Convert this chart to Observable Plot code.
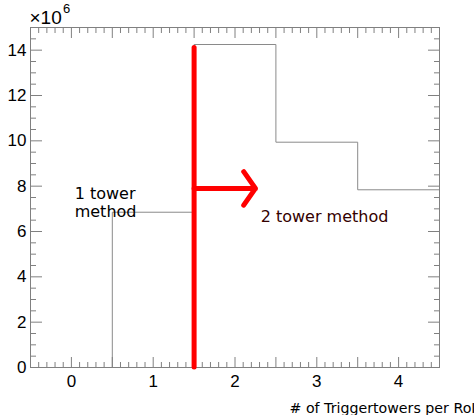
<!DOCTYPE html>
<html>
<head>
<meta charset="utf-8">
<script src="https://cdn.jsdelivr.net/npm/d3@7"></script>
<script src="https://cdn.jsdelivr.net/npm/@observablehq/plot@0.6"></script>
<style>
  html, body { margin: 0; padding: 0; background: #ffffff; overflow: hidden; }
  #chart { width: 474px; height: 415px; }
</style>
</head>
<body>
<div id="chart"></div>
<script>
// ---- data (values in units of 10^6) ----
const binEdges = [-0.5, 0.5, 1.5, 2.5, 3.5, 4.5];
const binCounts = [0, 6.85, 14.25, 9.94, 7.84];
const xTickLabels = [0, 1, 2, 3, 4];
const yTickLabels = [0, 2, 4, 6, 8, 10, 12, 14];
const yScaleExponent = "×10";
const yScalePower = "6";
const xAxisTitle = "# of Triggertowers per RoI";

// red cut line and arrow (data coordinates)
const cutLine = [{x: 1.5, y1: 0, y2: 14.1}];
const cutArrow = [{x1: 1.5, x2: 2.25, y: 7.9}];

// annotations
const leftNote = [{x: 0.04, y: 7.67, text: "1 tower"}, {x: 0.04, y: 6.855, text: "method"}];
const rightNote = [{x: 2.314, y: 6.635, text: "2 tower method"}];

// ---- build ----
const M = 1e6;
const histPoints = binEdges.map((e, i) => ({x: e, y: binCounts[Math.min(i, binCounts.length - 1)] * M}));
const xMajor = d3.range(-5, 46, 5).map(d => d / 10);
const xMinor = d3.range(-5, 46, 1).map(d => d / 10).filter(d => !xMajor.includes(d));
const yMajor = yTickLabels.map(d => d * M);
const yMinor = d3.range(0, 31, 1).map(d => d * 0.5 * M).filter(d => !yMajor.includes(d));
const grey = "#808080";

const chart = Plot.plot({
  width: 474,
  height: 415,
  marginLeft: 30,
  marginRight: 35,
  marginTop: 27,
  marginBottom: 48,
  x: {type: "linear", domain: [-0.5, 4.5]},
  y: {type: "linear", domain: [0, 15 * M]},
  style: {background: "#ffffff", color: "#000000", fontFamily: "Liberation Sans, Arial, sans-serif", overflow: "visible"},
  marks: [
    Plot.line(histPoints, {x: "x", y: "y", curve: "step-after", stroke: "#8a8a8a", strokeWidth: 1}),
    Plot.frame({stroke: grey, strokeWidth: 1}),
    // inward ticks, bottom & top
    Plot.axisX({anchor: "bottom", ticks: xMajor, tickSize: 10, dy: -10, tickFormat: () => "", label: null, stroke: grey}),
    Plot.axisX({anchor: "bottom", ticks: xMinor, tickSize: 5, dy: -5, tickFormat: () => "", label: null, stroke: grey}),
    Plot.axisX({anchor: "top", ticks: xMajor, tickSize: 10, dy: 10, tickFormat: () => "", label: null, stroke: grey}),
    Plot.axisX({anchor: "top", ticks: xMinor, tickSize: 5, dy: 5, tickFormat: () => "", label: null, stroke: grey}),
    // inward ticks, left & right
    Plot.axisY({anchor: "left", ticks: yMajor, tickSize: 12, dx: 12, tickFormat: () => "", label: null, stroke: grey}),
    Plot.axisY({anchor: "left", ticks: yMinor, tickSize: 6, dx: 6, tickFormat: () => "", label: null, stroke: grey}),
    Plot.axisY({anchor: "right", ticks: yMajor, tickSize: 12, dx: -12, tickFormat: () => "", label: null, stroke: grey}),
    Plot.axisY({anchor: "right", ticks: yMinor, tickSize: 6, dx: -6, tickFormat: () => "", label: null, stroke: grey}),
    // tick labels
    Plot.axisX({anchor: "bottom", ticks: xTickLabels, tickSize: 0, tickPadding: 7, tickFormat: d => String(d), label: null, fontSize: 17, fill: "#000000"}),
    Plot.axisY({anchor: "left", ticks: yMajor, tickSize: 0, tickPadding: 4, tickFormat: d => String(Math.round(d / M)), label: null, fontSize: 17, fill: "#000000"}),
    // exponent
    Plot.text([yScaleExponent], {frameAnchor: "top-left", text: d => d, textAnchor: "start", lineAnchor: "middle", dx: -1, dy: -9.5, fontSize: 19, fill: "#000000"}),
    Plot.text([yScalePower], {frameAnchor: "top-left", text: d => d, textAnchor: "start", lineAnchor: "middle", dx: 32.5, dy: -19, fontSize: 13, fill: "#000000"}),
    // x axis title
    Plot.text([xAxisTitle], {frameAnchor: "bottom-right", text: d => d, textAnchor: "end", lineAnchor: "middle", dx: 36, dy: 41, fontSize: 14.2, fontFamily: "DejaVu Sans", fill: "#000000"}),
    // red cut line + arrow
    Plot.ruleX(cutLine, {x: "x", y1: d => d.y1 * M, y2: d => d.y2 * M, stroke: "#ff0000", strokeWidth: 5, strokeLinecap: "round"}),
    Plot.arrow(cutArrow, {x1: "x1", x2: "x2", y1: d => d.y * M, y2: d => d.y * M, stroke: "#ff0000", strokeWidth: 5, headAngle: 110, headLength: 6.3, strokeLinecap: "round", strokeLinejoin: "round"}),
    // annotations
    Plot.text(leftNote, {x: "x", y: d => d.y * M, text: "text", textAnchor: "start", lineAnchor: "middle", fontSize: 16, fontFamily: "DejaVu Sans", fill: "#000000"}),
    Plot.text(rightNote, {x: "x", y: d => d.y * M, text: "text", textAnchor: "start", lineAnchor: "middle", fontSize: 16, fontFamily: "DejaVu Sans", fill: "#330000"})
  ]
});
document.getElementById("chart").appendChild(chart);
</script>
</body>
</html>
